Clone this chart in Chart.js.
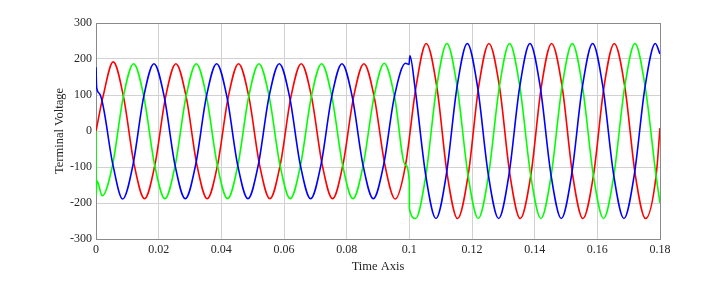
<!DOCTYPE html>
<html>
<head>
<meta charset="utf-8">
<script src="https://cdn.jsdelivr.net/npm/chart.js@4.4.1/dist/chart.umd.min.js"></script>
<style>
  html, body { margin: 0; padding: 0; background: #fff; }
  #scope { display: block; }
</style>
</head>
<body>
<canvas id="scope" width="707" height="283"></canvas>
<script>
// tick labels as printed on the axes
const timeTicks = ['0', '0.02', '0.04', '0.06', '0.08', '0.1', '0.12', '0.14', '0.16', '0.18']
const voltageTicks = ['-300', '-200', '-100', '0', '100', '200', '300']

// [time, voltage]: peaks, troughs, the points where two phases cross
// (about half the peak), plus the glitches at start-up and at the 0.1 s step
const phaseA = [
  [0, 0], [0.0022, 94], [0.0055, 192], [0.0088, 94], [0.0122, -94], [0.0155, -188], [0.0188, -94],
  [0.0222, 94], [0.0255, 187], [0.0288, 94], [0.0322, -94], [0.0355, -188], [0.0388, -94],
  [0.0422, 94], [0.0455, 187], [0.0488, 94], [0.0522, -94], [0.0555, -188], [0.0588, -94],
  [0.0622, 94], [0.0655, 187], [0.0688, 94], [0.0722, -94], [0.0755, -188], [0.0788, -94],
  [0.0822, 94], [0.0855, 187], [0.0888, 94], [0.0922, -94], [0.0955, -189], [0.0988, -94],
  [0.1021, 121], [0.1054, 243], [0.1088, 121], [0.1121, -121], [0.1154, -243], [0.1188, -121],
  [0.1221, 121], [0.1254, 243], [0.1288, 121], [0.1321, -121], [0.1354, -243], [0.1388, -121],
  [0.1421, 121], [0.1454, 243], [0.1488, 121], [0.1521, -121], [0.1554, -243], [0.1588, -121],
  [0.1621, 121], [0.1654, 243], [0.1688, 121], [0.1721, -121], [0.1754, -243], [0.1788, -121],
  [0.18, 8]
]

const phaseB = [
  [0, 0], [0.00001, -180], [0.0003, -138], [0.002, -180], [0.0053, -94], [0.0087, 94],
  [0.012, 187], [0.0153, 94], [0.0187, -94], [0.022, -188], [0.0253, -94], [0.0287, 94],
  [0.032, 187], [0.0353, 94], [0.0387, -94], [0.042, -188], [0.0453, -94], [0.0487, 94],
  [0.052, 187], [0.0553, 94], [0.0587, -94], [0.062, -188], [0.0653, -94], [0.0687, 94],
  [0.072, 187], [0.0753, 94], [0.0787, -94], [0.082, -188], [0.0853, -94], [0.0887, 94],
  [0.092, 188], [0.0953, 94], [0.0987, -94], [0.1, -140], [0.10001, -215], [0.102, -243],
  [0.1053, -121], [0.1087, 121], [0.112, 243], [0.1153, 121], [0.1187, -121], [0.122, -243],
  [0.1253, -121], [0.1287, 121], [0.132, 243], [0.1353, 121], [0.1387, -121], [0.142, -243],
  [0.1453, -121], [0.1487, 121], [0.152, 243], [0.1553, 121], [0.1587, -121], [0.162, -243],
  [0.1653, -121], [0.1687, 121], [0.172, 243], [0.1753, 121], [0.1787, -121], [0.18, -200]
]

const phaseC = [
  [0, 177], [0.0002, 121], [0.0012, 103], [0.0054, -94], [0.0085, -189], [0.0118, -94],
  [0.0152, 94], [0.0185, 187], [0.0218, 94], [0.0252, -94], [0.0285, -188], [0.0318, -94],
  [0.0352, 94], [0.0385, 187], [0.0418, 94], [0.0452, -94], [0.0485, -188], [0.0518, -94],
  [0.0552, 94], [0.0585, 187], [0.0618, 94], [0.0652, -94], [0.0685, -188], [0.0718, -94],
  [0.0752, 94], [0.0785, 187], [0.0818, 94], [0.0852, -94], [0.0885, -188], [0.0918, -94],
  [0.0952, 94], [0.0988, 188], [0.0999, 185], [0.1002, 209], [0.1018, 121], [0.1052, -121],
  [0.1085, -243], [0.1118, -121], [0.1152, 121], [0.1185, 243], [0.1218, 121], [0.1252, -121],
  [0.1285, -243], [0.1318, -121], [0.1352, 121], [0.1385, 243], [0.1418, 121], [0.1452, -121],
  [0.1485, -243], [0.1518, -121], [0.1552, 121], [0.1585, 243], [0.1618, 121], [0.1652, -121],
  [0.1685, -243], [0.1718, -121], [0.1752, 121], [0.1785, 243], [0.18, 214]
]

const toXY = (pairs) => pairs.map(([x, y]) => ({ x, y }))

const tickFont = { family: '"Liberation Serif", "Times New Roman", serif', size: 12 }
const titleFont = { family: '"Liberation Serif", "Times New Roman", serif', size: 12.5 }
const gridColor = '#d2d2d2'
const textColor = '#262626'

// grey box round the plot, like the matlab axes (under the traces)
const frame = {
  id: 'frame',
  beforeDatasetsDraw(chart) {
    const { ctx, chartArea: a } = chart
    ctx.save()
    ctx.strokeStyle = '#8a8a8a'
    ctx.lineWidth = 1
    ctx.strokeRect(a.left + 0.5, a.top + 0.5, a.right - a.left, a.bottom - a.top)
    ctx.restore()
  }
}

const line = (pairs, color, order) => ({
  data: toXY(pairs),
  borderColor: color,
  backgroundColor: color,
  borderWidth: 1.6,
  pointRadius: 0,
  cubicInterpolationMode: 'monotone',
  fill: false,
  order
})

new Chart(document.querySelector('#scope'), {
  type: 'line',
  data: {
    datasets: [
      line(phaseA, '#ff0000', 3),
      line(phaseB, '#00ff00', 2),
      line(phaseC, '#0000ff', 1)
    ]
  },
  options: {
    responsive: false,
    animation: false,
    events: [],
    layout: { padding: { top: 23, right: 47, bottom: 0, left: 0 } },
    plugins: { legend: { display: false }, tooltip: { enabled: false } },
    scales: {
      x: {
        type: 'linear',
        min: 0,
        max: 0.18,
        afterBuildTicks: (scale) => { scale.ticks = timeTicks.map((t) => ({ value: Number(t) })) },
        afterFit: (scale) => { scale.height = 44 },
        ticks: { font: tickFont, color: textColor, padding: 4, maxRotation: 0, autoSkip: false,
          callback: (v, i) => timeTicks[i] },
        grid: { color: gridColor, drawTicks: false },
        border: { display: false },
        title: { display: true, text: 'Time Axis', font: titleFont, color: textColor,
          padding: { top: 0, bottom: 8.9 } }
      },
      y: {
        type: 'linear',
        min: -300,
        max: 300,
        afterBuildTicks: (scale) => { scale.ticks = voltageTicks.map((t) => ({ value: Number(t) })) },
        afterFit: (scale) => { scale.width = 96 },
        ticks: { font: tickFont, color: textColor, padding: 4, autoSkip: false,
          callback: (v, i) => voltageTicks[i] },
        grid: { color: gridColor, drawTicks: false },
        border: { display: false },
        title: { display: true, text: 'Terminal Voltage', font: titleFont, color: textColor,
          padding: { top: 52.7, bottom: 0 } }
      }
    }
  },
  plugins: [frame]
})
</script>
</body>
</html>
